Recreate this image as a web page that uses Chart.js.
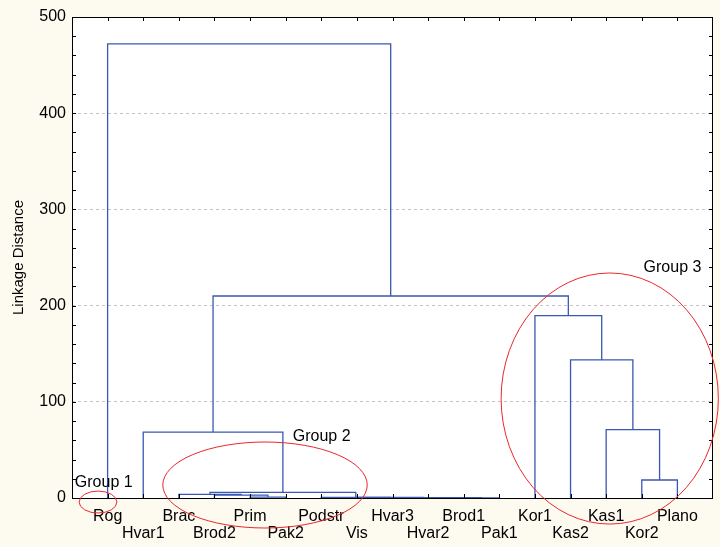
<!DOCTYPE html>
<html>
<head>
<meta charset="utf-8">
<script src="https://cdn.jsdelivr.net/npm/chart.js@4.4.0/dist/chart.umd.min.js"></script>
<style>
  html, body { margin: 0; padding: 0; background: #fdfaf0; }
  #wrap { width: 720px; height: 547px; }
</style>
</head>
<body>
<div id="wrap"><canvas id="dendro" width="720" height="547"></canvas></div>
<script>
// foglie del dendrogramma (ordine sull'asse x)
var leaves = ["Rog", "Hvar1", "Brac", "Brod2", "Prim", "Pak2", "Podstr", "Vis", "Hvar3",
  "Hvar2", "Brod1", "Pak1", "Kor1", "Kas2", "Kas1", "Kor2", "Plano"];

// fusioni: indice a, indice b, distanza (indici >= 17 = cluster creati prima)
var mergeA = [10, 9, 8, 7, 6, 4, 3, 2, 24, 15, 1, 14, 13, 12, 27, 0];
var mergeB = [11, 17, 18, 19, 20, 5, 22, 23, 21, 16, 25, 26, 28, 29, 30, 31];
var mergeDist = [0.2, 0.3, 0.4, 0.5, 0.6, 1.0, 3.0, 3.8, 5.9, 18.7, 68.5, 71, 143.5, 189.5, 210, 472];

// asse y
var yTicks = [0, 100, 200, 300, 400, 500];

// gruppi evidenziati (testo + ellisse, in unita' del grafico)
var groupNames = ["Group 1", "Group 2", "Group 3"];
var annot = {
  textX: [0.08, 6.2, 16.05],
  textY: [15.5, 63.5, 239],
  ellX: [0.73, 5.42, 15.1],
  ellY: [-4.2, 13.5, 103.4],
  ellRx: [0.53, 2.87, 3.05],
  ellRy: [11.4, 44.7, 130.5]
};

var lineColor = "#3a58b3";

function buildDatasets() {
  var n = leaves.length;
  var posX = [];
  var posY = [];
  for (var i = 0; i < n; i++) {
    posX.push(i + 1);
    posY.push(0);
  }
  var sets = [];
  for (var k = 0; k < mergeA.length; k++) {
    var a = mergeA[k], b = mergeB[k], h = mergeDist[k];
    sets.push({
      data: [
        {x: posX[a], y: posY[a]},
        {x: posX[a], y: h},
        {x: posX[b], y: h},
        {x: posX[b], y: posY[b]}
      ],
      borderColor: lineColor,
      borderWidth: 1.3,
      pointRadius: 0,
      fill: false,
      tension: 0,
      clip: false
    });
    // nuovo cluster al centro dei due figli
    posX.push((posX[a] + posX[b]) / 2);
    posY.push(h);
  }
  return sets;
}

// sfondo bianco dell'area, cornice, tacche interne, gruppi
var decorPlugin = {
  id: "decor",
  beforeDraw: function(chart) {
    var c = chart.ctx, a = chart.chartArea;
    c.save();
    c.fillStyle = "#ffffff";
    c.fillRect(a.left, a.top, a.right - a.left, a.bottom - a.top);
    c.restore();
  },
  afterDraw: function(chart) {
    var c = chart.ctx, a = chart.chartArea;
    var sx = chart.scales.x, sy = chart.scales.y;
    c.save();
    c.strokeStyle = "#000000";
    c.lineWidth = 1;
    c.strokeRect(a.left + 0.5, a.top + 0.5, a.right - a.left - 1, a.bottom - a.top);
    c.beginPath();
    for (var v = 0; v <= 500; v += 20) {
      var py = Math.round(sy.getPixelForValue(v)) + 0.5;
      c.moveTo(a.left, py); c.lineTo(a.left + 4, py);
      c.moveTo(a.right, py); c.lineTo(a.right - 4, py);
    }
    for (var i = 1; i <= leaves.length; i++) {
      var px = Math.round(sx.getPixelForValue(i)) + 0.5;
      c.moveTo(px, a.top); c.lineTo(px, a.top + 4);
      c.moveTo(px, a.bottom); c.lineTo(px, a.bottom - 4);
    }
    c.stroke();

    // ellissi rosse
    c.strokeStyle = "#e8282c";
    c.lineWidth = 1;
    for (var g = 0; g < groupNames.length; g++) {
      var cx = sx.getPixelForValue(annot.ellX[g]);
      var cy = sy.getPixelForValue(annot.ellY[g]);
      var rx = Math.abs(sx.getPixelForValue(annot.ellX[g] + annot.ellRx[g]) - cx);
      var ry = Math.abs(sy.getPixelForValue(annot.ellY[g] + annot.ellRy[g]) - cy);
      c.beginPath();
      c.ellipse(cx, cy, rx, ry, 0, 0, Math.PI * 2);
      c.stroke();
    }
    // testi dei gruppi
    c.fillStyle = "#000000";
    c.font = "16px 'Liberation Sans', Arial, sans-serif";
    c.textAlign = "left";
    c.textBaseline = "middle";
    for (var t = 0; t < groupNames.length; t++) {
      c.fillText(groupNames[t], sx.getPixelForValue(annot.textX[t]), sy.getPixelForValue(annot.textY[t]));
    }
    c.restore();
  }
};

function init() {
  var ctx = document.getElementById("dendro").getContext("2d");
  Chart.defaults.font.family = "'Liberation Sans', Arial, sans-serif";
  Chart.defaults.color = "#000000";
  new Chart(ctx, {
    type: "line",
    data: { datasets: buildDatasets() },
    options: {
      responsive: false,
      animation: false,
      events: [],
      layout: { padding: { top: 17, right: 7, left: 0, bottom: 0 } },
      plugins: { legend: { display: false }, tooltip: { enabled: false } },
      scales: {
        x: {
          type: "linear",
          min: 0,
          max: leaves.length + 1,
          afterFit: function(scale) {
            scale.height = 49;
            // niente margine extra ai lati dovuto alle etichette
            scale.paddingLeft = 0;
            scale.paddingRight = 0;
          },
          grid: { display: false, drawTicks: false },
          border: { display: false },
          ticks: {
            stepSize: 1,
            autoSkip: false,
            maxRotation: 0,
            padding: 10,
            font: { size: 16, lineHeight: 1.05 },
            callback: function(value) {
              var i = Math.round(value) - 1;
              if (i < 0 || i >= leaves.length) return "";
              // etichette alternate su due righe
              return i % 2 === 0 ? leaves[i] : ["", leaves[i]];
            }
          }
        },
        y: {
          min: yTicks[0],
          max: yTicks[yTicks.length - 1],
          afterFit: function(scale) { scale.width = 72; },
          afterBuildTicks: function(scale) {
            scale.ticks = yTicks.map(function(v) { return {value: v}; });
          },
          title: {
            display: true,
            text: "Linkage Distance",
            font: { size: 15 },
            padding: { top: 10, bottom: 0 }
          },
          grid: {
            drawTicks: false,
            color: function(c) {
              var v = c.tick ? c.tick.value : 0;
              return (v > 0 && v < 500) ? "#c4c4c4" : "rgba(0,0,0,0)";
            }
          },
          border: { display: false, dash: [3, 3] },
          ticks: { padding: 6, font: { size: 16 } }
        }
      }
    },
    plugins: [decorPlugin]
  });
}

init();
</script>
</body>
</html>
